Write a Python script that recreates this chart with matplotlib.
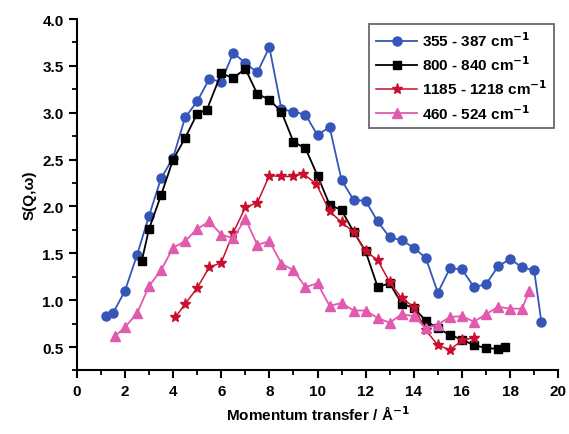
import matplotlib
matplotlib.use("Agg")
import matplotlib.pyplot as plt
from matplotlib.ticker import MultipleLocator, FormatStrFormatter

plt.rcParams["font.family"] = ["Liberation Sans", "DejaVu Sans"]
plt.rcParams["font.weight"] = "bold"
plt.rcParams["mathtext.default"] = "bf"

# 355 - 387 cm-1 (blue circles)
q_blue = [1.2, 1.5, 2.0, 2.5, 3.0, 3.5, 4.0, 4.5, 5.0, 5.5, 6.0, 6.5, 7.0, 7.5, 8.0,
          8.5, 9.0, 9.5, 10.0, 10.5, 11.0, 11.5, 12.0, 12.5, 13.0, 13.5, 14.0, 14.5,
          15.0, 15.5, 16.0, 16.5, 17.0, 17.5, 18.0, 18.5, 19.0, 19.3]
s_blue = [0.83, 0.86, 1.10, 1.48, 1.90, 2.30, 2.52, 2.95, 3.12, 3.36, 3.33, 3.64, 3.53,
          3.43, 3.70, 3.04, 3.01, 2.98, 2.76, 2.85, 2.28, 2.07, 2.06, 1.84, 1.67, 1.64,
          1.56, 1.45, 1.08, 1.34, 1.33, 1.14, 1.17, 1.36, 1.44, 1.35, 1.32, 0.77]

# 800 - 840 cm-1 (black squares)
q_black = [2.7, 3.0, 3.5, 4.0, 4.5, 5.0, 5.4, 6.0, 6.5, 7.0, 7.5, 8.0, 8.5, 9.0, 9.5,
           10.0, 10.5, 11.0, 11.5, 12.0, 12.5, 13.0, 13.5, 14.0, 14.5, 15.0, 15.5,
           16.0, 16.5, 17.0, 17.5, 17.8]
s_black = [1.42, 1.76, 2.12, 2.50, 2.73, 2.99, 3.03, 3.42, 3.37, 3.47, 3.20, 3.14, 3.01,
           2.69, 2.62, 2.33, 2.02, 1.96, 1.73, 1.52, 1.14, 1.18, 0.96, 0.92, 0.78, 0.70,
           0.63, 0.58, 0.52, 0.49, 0.48, 0.50]

# 1185 - 1218 cm-1 (red stars)
q_red = [4.1, 4.5, 5.0, 5.5, 6.0, 6.5, 7.0, 7.5, 8.0, 8.5, 9.0, 9.4, 9.95, 10.5, 11.0,
         11.5, 12.0, 12.5, 13.0, 13.5, 14.0, 14.5, 15.0, 15.5, 16.0, 16.5]
s_red = [0.82, 0.96, 1.13, 1.35, 1.40, 1.72, 1.99, 2.04, 2.33, 2.32, 2.32, 2.35, 2.24,
         1.95, 1.83, 1.73, 1.52, 1.43, 1.19, 1.02, 0.93, 0.68, 0.52, 0.47, 0.57, 0.60]

# 460 - 524 cm-1 (pink triangles)
q_pink = [1.6, 2.0, 2.5, 3.0, 3.5, 4.0, 4.5, 5.0, 5.5, 6.0, 6.5, 7.0, 7.5, 8.0, 8.5,
          9.0, 9.5, 10.0, 10.5, 11.0, 11.5, 12.0, 12.5, 13.0, 13.5, 14.0, 14.5, 15.0,
          15.5, 16.0, 16.5, 17.0, 17.5, 18.0, 18.5, 18.8]
s_pink = [0.62, 0.71, 0.86, 1.15, 1.32, 1.56, 1.63, 1.76, 1.84, 1.70, 1.66, 1.87, 1.59,
          1.63, 1.39, 1.32, 1.14, 1.18, 0.94, 0.97, 0.89, 0.89, 0.81, 0.76, 0.85, 0.83,
          0.70, 0.74, 0.82, 0.83, 0.77, 0.85, 0.93, 0.91, 0.91, 1.10]

labels = ["355 - 387 cm$^{-1}$", "800 - 840 cm$^{-1}$",
          "1185 - 1218 cm$^{-1}$", "460 - 524 cm$^{-1}$"]

fig = plt.figure(figsize=(5.69, 4.35), dpi=100)
ax = fig.add_axes([0.135, 0.146, 0.846, 0.808])

ax.plot(q_blue, s_blue, color="#3556b8", lw=1.3, marker="o", ms=6.5, label=labels[0])
ax.plot(q_black, s_black, color="black", lw=1.3, marker="s", ms=5.5, label=labels[1])
ax.plot(q_red, s_red, color="#c8102e", lw=1.1, marker="*", ms=8, label=labels[2])
ax.plot(q_pink, s_pink, color="#e05aae", lw=1.3, marker="^", ms=7, label=labels[3])

ax.set_xlim(0, 20)
ax.set_ylim(0.25, 4.0)
ax.xaxis.set_major_locator(MultipleLocator(2))
ax.xaxis.set_minor_locator(MultipleLocator(1))
ax.yaxis.set_minor_locator(MultipleLocator(0.25))
ax.set_yticks([0.5, 1.0, 1.5, 2.0, 2.5, 3.0, 3.5, 4.0])
ax.yaxis.set_major_formatter(FormatStrFormatter("%.1f"))

ax.spines["top"].set_visible(False)
ax.spines["right"].set_visible(False)
ax.spines["left"].set_linewidth(1.5)
ax.spines["bottom"].set_linewidth(1.5)
ax.tick_params(which="major", direction="out", length=6, width=1.5, labelsize=11)
ax.tick_params(which="minor", direction="out", length=3.5, width=1.3)

ax.set_xlabel("Momentum transfer / Å$^{-1}$", fontsize=11, fontweight="bold", labelpad=5)
ax.set_ylabel("S(Q,ω)", fontsize=11, fontweight="bold", labelpad=4)

leg = ax.legend(loc="upper right", bbox_to_anchor=(0.998, 0.995), fontsize=11,
                frameon=True, fancybox=False, edgecolor="#444444",
                handlelength=2.7, handletextpad=0.3, labelspacing=0.35,
                borderpad=0.45, borderaxespad=0.2)
leg.get_frame().set_linewidth(1.3)

fig.savefig("out.png", dpi=100)
